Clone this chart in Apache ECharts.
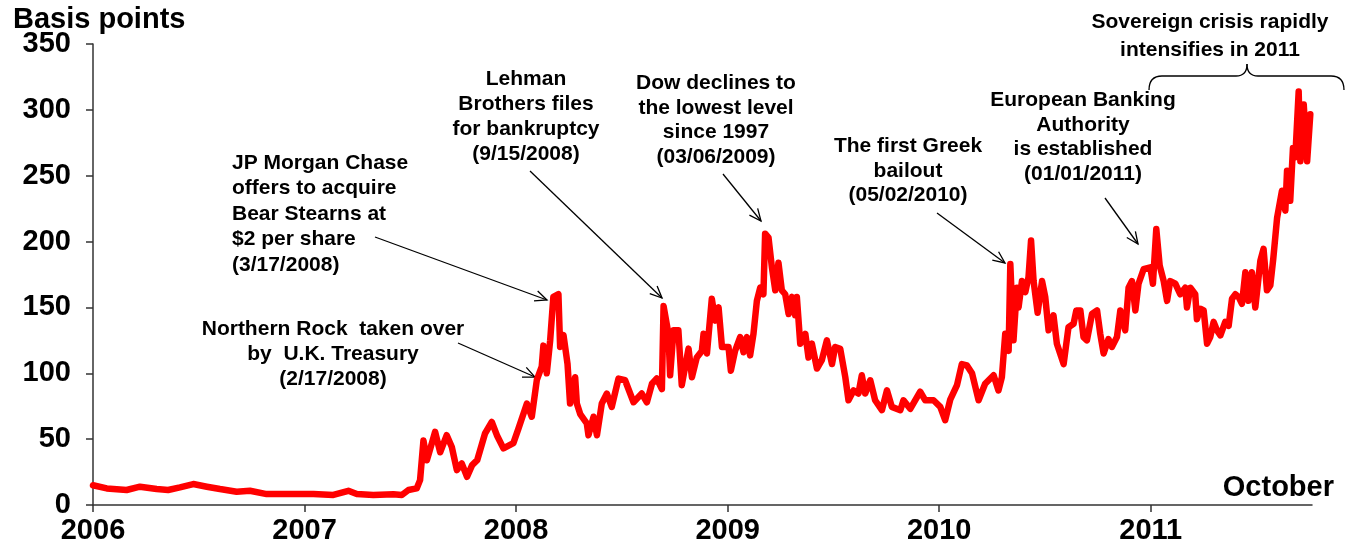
<!DOCTYPE html>
<html>
<head>
<meta charset="utf-8">
<script src="https://cdn.jsdelivr.net/npm/echarts@6/dist/echarts.min.js"></script>
<style>
  html, body { margin: 0; padding: 0; background: #fff; }
  #main { width: 1346px; height: 547px; }
</style>
</head>
<body>
<div id="main"></div>
<script>
// x positions as decimal years, values in basis points
const years = [
  2006.000, 2006.065, 2006.159, 2006.222, 2006.301, 2006.355, 2006.411, 2006.474, 2006.538, 2006.600,
  2006.679, 2006.742, 2006.821, 2006.884, 2007.042, 2007.136, 2007.207, 2007.247, 2007.325, 2007.420,
  2007.460, 2007.491, 2007.530, 2007.546, 2007.562, 2007.578, 2007.593, 2007.617, 2007.641, 2007.672,
  2007.696, 2007.720, 2007.743, 2007.768, 2007.792, 2007.816, 2007.853, 2007.885, 2007.909, 2007.940,
  2007.987, 2008.011, 2008.051, 2008.074, 2008.098, 2008.121, 2008.129, 2008.145, 2008.161, 2008.176,
  2008.200, 2008.208, 2008.224, 2008.243, 2008.255, 2008.279, 2008.287, 2008.303, 2008.334, 2008.342,
  2008.366, 2008.382, 2008.405, 2008.429, 2008.452, 2008.484, 2008.515, 2008.555, 2008.594, 2008.618,
  2008.642, 2008.665, 2008.689, 2008.697, 2008.720, 2008.728, 2008.744, 2008.767, 2008.783, 2008.815,
  2008.831, 2008.854, 2008.878, 2008.886, 2008.902, 2008.925, 2008.941, 2008.957, 2008.973, 2009.004,
  2009.015, 2009.035, 2009.059, 2009.075, 2009.091, 2009.106, 2009.122, 2009.138, 2009.154, 2009.169,
  2009.177, 2009.193, 2009.209, 2009.225, 2009.240, 2009.256, 2009.272, 2009.288, 2009.304, 2009.319,
  2009.327, 2009.343, 2009.367, 2009.382, 2009.398, 2009.422, 2009.445, 2009.469, 2009.493, 2009.508,
  2009.532, 2009.556, 2009.571, 2009.595, 2009.618, 2009.634, 2009.650, 2009.674, 2009.697, 2009.729,
  2009.753, 2009.776, 2009.816, 2009.831, 2009.863, 2009.910, 2009.934, 2009.973, 2010.005, 2010.028,
  2010.052, 2010.084, 2010.107, 2010.131, 2010.155, 2010.186, 2010.217, 2010.257, 2010.280, 2010.296,
  2010.312, 2010.328, 2010.336, 2010.351, 2010.367, 2010.375, 2010.391, 2010.407, 2010.422, 2010.434,
  2010.446, 2010.465, 2010.486, 2010.501, 2010.517, 2010.540, 2010.556, 2010.588, 2010.611, 2010.635,
  2010.648, 2010.667, 2010.682, 2010.698, 2010.722, 2010.746, 2010.761, 2010.777, 2010.800, 2010.816,
  2010.840, 2010.856, 2010.879, 2010.895, 2010.911, 2010.927, 2010.942, 2010.966, 2010.998, 2011.010,
  2011.026, 2011.042, 2011.061, 2011.077, 2011.092, 2011.116, 2011.139, 2011.163, 2011.171, 2011.187,
  2011.210, 2011.218, 2011.234, 2011.250, 2011.266, 2011.281, 2011.297, 2011.313, 2011.329, 2011.352,
  2011.368, 2011.384, 2011.400, 2011.415, 2011.431, 2011.447, 2011.462, 2011.478, 2011.494, 2011.518,
  2011.533, 2011.549, 2011.565, 2011.579, 2011.597, 2011.620, 2011.636, 2011.644, 2011.659, 2011.672,
  2011.683, 2011.699, 2011.707, 2011.723, 2011.739, 2011.754
];
const spread = [
  15, 12.6, 11.4, 13.9, 12.1, 11.4, 13.4, 15.9, 13.9, 12.1,
  10.1, 10.8, 8.3, 8.3, 8.3, 7.6, 10.8, 8.3, 7.6, 8.1,
  7.6, 11.4, 12.6, 18.9, 49, 34, 42, 55.5, 40, 53,
  44, 26.5, 31.6, 21.4, 30.3, 34, 54.3, 63, 53, 43,
  47, 58, 77, 67, 95, 105, 121, 100, 125, 158,
  160, 120, 129, 107, 77, 97, 77, 69, 62, 53,
  67, 53, 77, 84.6, 74.5, 96, 94.7, 78, 84.6, 78,
  92, 96, 88, 151, 130, 98.5, 132.6, 132.6, 91, 118.7,
  97, 112, 117, 130, 115, 156.6, 140, 150, 120, 120,
  102, 117, 127.5, 116, 127.5, 113.6, 130, 155, 165, 160,
  206, 203, 180.5, 163, 184, 163, 160, 145, 158, 144,
  158, 122.5, 130, 112, 122.5, 103.6, 110, 125, 107, 120,
  118.6, 97, 79.5, 87, 84.6, 98.5, 84.6, 94.7, 79.5, 72,
  87, 74.5, 72, 79.5, 73, 86, 79.5, 79.5, 74.5, 64.4,
  80, 91, 107, 106, 100, 79.5, 92, 98.5, 87, 97,
  130, 117, 183, 125, 165, 150, 170, 161.6, 173, 200.8,
  170, 146, 170, 158, 132.6, 144, 122.5, 107, 135, 137.6,
  147.7, 147.7, 127.5, 125, 145, 147.7, 130, 115, 126, 120,
  127.5, 147.7, 132.6, 165, 170, 147.7, 168, 179, 180.5, 168,
  209.6, 181.8, 170, 155, 170, 168, 160, 165, 150, 165,
  160, 141, 149, 147.7, 122.5, 127.5, 139, 132.6, 128.8, 139,
  136, 156.6, 160, 158, 152.8, 176.7, 155, 176.7, 150, 185.6,
  194.5, 163, 166.7, 187, 218, 238.6, 223.5, 253.8, 231, 271,
  264, 314, 261, 304, 261, 296.7
];
const yearTicks = [2006, 2007, 2008, 2009, 2010, 2011];

const fontFamily = "'Liberation Sans', Arial, sans-serif";
const noteFont = "bold 21px " + fontFamily;
const ink = { stroke: "#000", lineWidth: 1.3, fill: null };

function note(text, x, y, align, lineHeight) {
  return {
    type: "text",
    x: x,
    y: y,
    style: {
      text: text,
      font: noteFont,
      fill: "#000",
      textAlign: align,
      textVerticalAlign: "top",
      lineHeight: lineHeight || 25,
    },
  };
}

function arrow(x1, y1, x2, y2) {
  const a = Math.atan2(y2 - y1, x2 - x1);
  const len = 13;
  const open = 0.42;
  return {
    type: "group",
    children: [
      { type: "line", shape: { x1: x1, y1: y1, x2: x2, y2: y2 }, style: ink },
      {
        type: "polyline",
        shape: {
          points: [
            [x2 - len * Math.cos(a - open), y2 - len * Math.sin(a - open)],
            [x2, y2],
            [x2 - len * Math.cos(a + open), y2 - len * Math.sin(a + open)],
          ],
        },
        style: ink,
      },
    ],
  };
}

// curly bracket over the 2011 period
function curve(x1, y1, cx, cy, x2, y2) {
  return { type: "bezierCurve", shape: { x1: x1, y1: y1, cpx1: cx, cpy1: cy, x2: x2, y2: y2 }, style: ink };
}
const brace = {
  type: "group",
  children: [
    curve(1149, 90, 1149, 76, 1162, 76),
    { type: "line", shape: { x1: 1162, y1: 76, x2: 1236, y2: 76 }, style: ink },
    curve(1236, 76, 1247, 76, 1247, 64),
    curve(1247, 64, 1247, 76, 1258, 76),
    { type: "line", shape: { x1: 1258, y1: 76, x2: 1331, y2: 76 }, style: ink },
    curve(1331, 76, 1344, 76, 1344, 90),
  ],
};

let option = {
  animation: false,
  title: {
    text: "Basis points",
    left: 8,
    top: 0,
    textStyle: { fontFamily: fontFamily, fontWeight: "bold", fontSize: 29, color: "#000" },
  },
  grid: { left: 93, right: 34, top: 44, bottom: 42 },
  xAxis: {
    type: "value",
    min: 2006,
    max: 2011.762,
    splitLine: { show: false },
    axisLine: { lineStyle: { color: "#333", width: 1.5 } },
    axisTick: { customValues: yearTicks, length: 7, lineStyle: { color: "#333", width: 1.5 } },
    axisLabel: {
      customValues: yearTicks,
      margin: 11,
      formatter: (v) => String(Math.round(v)),
      color: "#000",
      fontFamily: fontFamily,
      fontWeight: "bold",
      fontSize: 29,
    },
  },
  yAxis: {
    type: "value",
    min: 0,
    max: 350,
    interval: 50,
    splitLine: { show: false },
    axisLine: { show: true, lineStyle: { color: "#333", width: 1.5 } },
    axisTick: { show: true, length: 7, lineStyle: { color: "#333", width: 1.5 } },
    axisLabel: {
      margin: 22,
      color: "#000",
      fontFamily: fontFamily,
      fontWeight: "bold",
      fontSize: 29,
    },
  },
  series: [
    {
      type: "line",
      data: years.map((y, i) => [y, spread[i]]),
      showSymbol: false,
      lineStyle: { color: "#ff0000", width: 6.5, join: "round", cap: "round" },
      itemStyle: { color: "#ff0000" },
    },
  ],
  graphic: [
    {
      type: "text",
      right: 12,
      top: 473,
      style: { text: "October", font: "bold 29px " + fontFamily, fill: "#000" },
    },
    note("Lehman\nBrothers files\nfor bankruptcy\n(9/15/2008)", 526, 67, "center"),
    note("Dow declines to\nthe lowest level\nsince 1997\n(03/06/2009)", 716, 71, "center", 24.5),
    note("JP Morgan Chase\noffers to acquire\nBear Stearns at\n$2 per share\n(3/17/2008)", 232, 150, "left", 25.5),
    note("Northern Rock  taken over\nby  U.K. Treasury\n(2/17/2008)", 333, 317, "center"),
    note("The first Greek\nbailout\n(05/02/2010)", 908, 134, "center", 24.5),
    note("European Banking\nAuthority\nis established\n(01/01/2011)", 1083, 88, "center", 24.5),
    note("Sovereign crisis rapidly\nintensifies in 2011", 1210, 8, "center", 28),
    arrow(458, 343, 535, 377),
    arrow(375, 237, 547, 300),
    arrow(530, 171, 662, 298),
    arrow(723, 174, 761, 221),
    arrow(937, 213, 1005, 263),
    arrow(1105, 198, 1138, 244),
    brace,
  ],
};

let chartDom = document.getElementById("main");
let myChart = echarts.init(chartDom);
option && myChart.setOption(option);
</script>
</body>
</html>
